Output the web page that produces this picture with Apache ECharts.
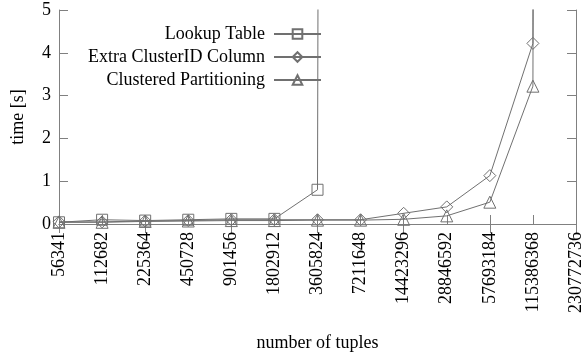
<!DOCTYPE html>
<html>
<head>
<meta charset="utf-8">
<script src="https://cdn.jsdelivr.net/npm/echarts@6/dist/echarts.min.js"></script>
<style>
  html, body { margin: 0; padding: 0; background: #fff; }
  #chart { width: 583px; height: 352px; }
</style>
</head>
<body>
<div id="chart"></div>
<script>
// Number of tuples (doubling each step)
const tupleCounts = ['56341', '112682', '225364', '450728', '901456', '1802912', '3605824',
  '7211648', '14423296', '28846592', '57693184', '115386368', '230772736'];

// Query time in seconds per approach (values above 5 s run off the top of the plot)
const lookupTable = [0.04, 0.10, 0.08, 0.10, 0.12, 0.12, 0.80, 400, null, null, null, null, null];
const extraClusterIdColumn = [0.05, 0.05, 0.07, 0.08, 0.10, 0.10, 0.10, 0.10, 0.25, 0.40, 1.13, 4.22, 400];
const clusteredPartitioning = [0.04, 0.04, 0.06, 0.07, 0.08, 0.08, 0.09, 0.09, 0.11, 0.19, 0.51, 3.22, 400];

const seriesNames = ['Lookup Table', 'Extra ClusterID Column', 'Clustered Partitioning'];
const yTicks = { min: 0, max: 5, interval: 1 };

const FONT = 'Liberation Serif';
const FS = 18;
const GRAY = '#707070';
const FRAME = '#808080';

function lineSeries(name, data, symbol, size) {
  return {
    name: name,
    type: 'line',
    data: data,
    symbol: symbol,
    symbolSize: size,
    showAllSymbol: true,
    clip: true,
    connectNulls: false,
    lineStyle: { color: GRAY, width: 1 },
    itemStyle: { color: 'rgba(255,255,255,0)', borderColor: GRAY, borderWidth: 1 },
    emphasis: { disabled: true }
  };
}

const chart = echarts.init(document.getElementById('chart'), null, { renderer: 'canvas' });
chart.setOption({
  animation: false,
  backgroundColor: '#fff',
  textStyle: { fontFamily: FONT },
  grid: { left: 59, right: 7, top: 10, bottom: 128, containLabel: false, outerBoundsMode: 'none' },
  legend: {
    orient: 'vertical',
    right: 256,
    top: 20,
    align: 'right',
    itemGap: 5,
    itemWidth: 47,
    itemHeight: 12,
    textStyle: { fontFamily: FONT, fontSize: FS, color: '#000', padding: [0, 4, 0, 0] },
    data: seriesNames
  },
  xAxis: [
    {
      type: 'category',
      data: tupleCounts,
      boundaryGap: false,
      name: 'number of tuples',
      nameLocation: 'middle',
      nameGap: 110,
      nameTextStyle: { fontFamily: FONT, fontSize: FS, color: '#000' },
      axisLine: { lineStyle: { color: FRAME, width: 1 } },
      axisTick: { inside: true, length: 9, lineStyle: { color: FRAME } },
      axisLabel: { rotate: 90, fontFamily: FONT, fontSize: FS, color: '#000', margin: 8, interval: 0 },
      splitLine: { show: false }
    },
    {
      type: 'category',
      data: tupleCounts,
      boundaryGap: false,
      position: 'top',
      axisLine: { lineStyle: { color: FRAME, width: 1 } },
      axisTick: { inside: true, length: 9, lineStyle: { color: FRAME } },
      axisLabel: { show: false },
      splitLine: { show: false }
    }
  ],
  yAxis: [
    {
      type: 'value',
      min: yTicks.min,
      max: yTicks.max,
      interval: yTicks.interval,
      name: 'time [s]',
      nameLocation: 'middle',
      nameGap: 32,
      nameTextStyle: { fontFamily: FONT, fontSize: FS, color: '#000' },
      axisLine: { show: true, lineStyle: { color: FRAME, width: 1 } },
      axisTick: { show: true, inside: true, length: 9, lineStyle: { color: FRAME } },
      axisLabel: { fontFamily: FONT, fontSize: FS, color: '#000', margin: 8 },
      splitLine: { show: false }
    },
    {
      type: 'value',
      min: yTicks.min,
      max: yTicks.max,
      interval: yTicks.interval,
      position: 'right',
      axisLine: { show: true, lineStyle: { color: FRAME, width: 1 } },
      axisTick: { show: true, inside: true, length: 9, lineStyle: { color: FRAME } },
      axisLabel: { show: false },
      splitLine: { show: false }
    }
  ],
  series: [
    lineSeries(seriesNames[0], lookupTable, 'rect', 11),
    lineSeries(seriesNames[1], extraClusterIdColumn, 'diamond', 12),
    lineSeries(seriesNames[2], clusteredPartitioning, 'triangle', 12)
  ]
});
</script>
</body>
</html>
